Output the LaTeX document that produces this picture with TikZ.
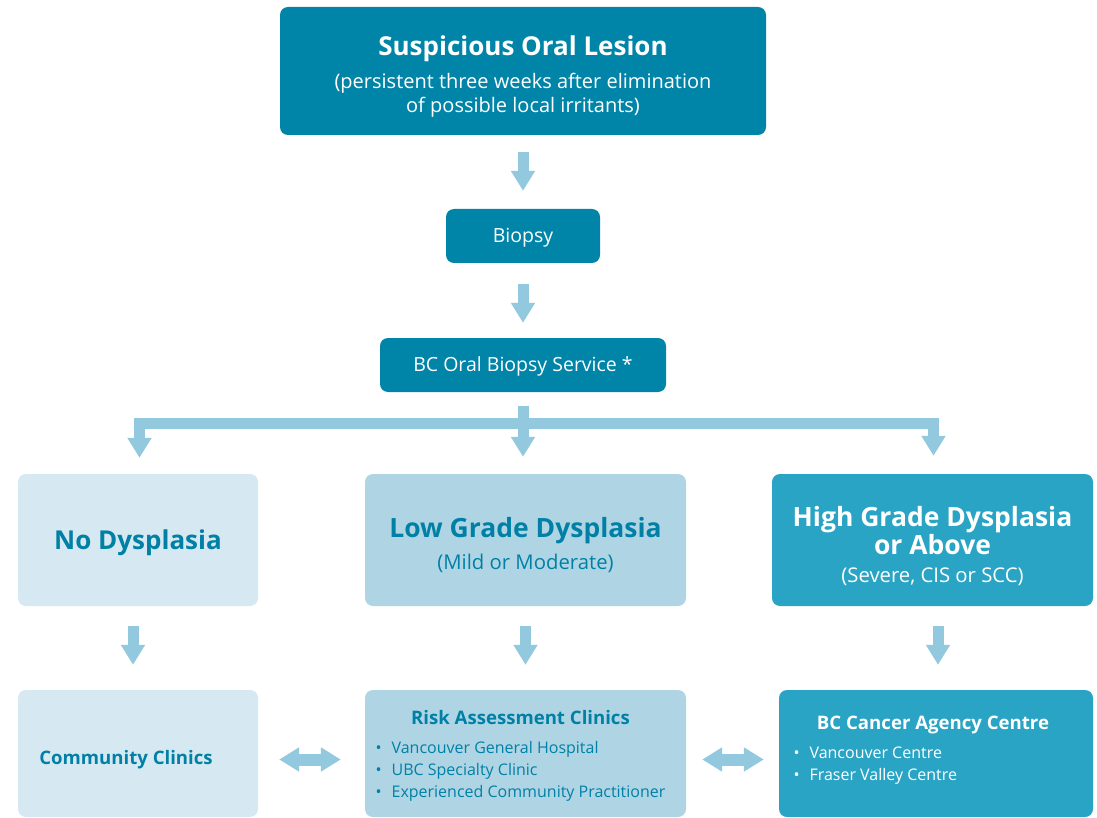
\documentclass[tikz,border=0pt]{standalone}
\usepackage{fontspec}
\setmainfont{Open Sans}
\usetikzlibrary{arrows.meta}
\definecolor{ocdark}{RGB}{0,133,168}
\definecolor{ochigh}{RGB}{42,164,196}
\definecolor{ocmid}{RGB}{175,213,229}
\definecolor{ocpale}{RGB}{214,233,242}
\definecolor{ocarrow}{RGB}{146,201,222}
\definecolor{octext}{RGB}{0,128,165}
\newcommand{\fs}[2]{\fontsize{#1}{#2}\selectfont}
\newcommand{\strutto}[1]{\rule{0pt}{#1}}
\newcommand{\bul}{\textbullet\hspace{10pt}}
\newcommand{\widthside}{240pt}
\newcommand{\widthmid}{321pt}
\newcommand{\heightrow}{132pt}
\tikzset{
    box/.style={rounded corners=8pt, inner sep=0pt, align=center},
    darkbox/.style={box, fill=ocdark, text=white},
    palebox/.style={box, fill=ocpale, text=octext},
    midbox/.style={box, fill=ocmid, text=octext},
    highbox/.style={box, fill=ochigh, text=white},
    fat/.style={draw=ocarrow, line width=11pt, line join=miter, -{Triangle[width=23pt,length=20pt]}},
    dbl/.style={draw=ocarrow, line width=12pt, {Triangle[width=23pt,length=20pt]}-{Triangle[width=23pt,length=20pt]}},
    title/.style={font=\bfseries\fs{18.6}{22}},
    items/.style={align=left, font=\fs{16}{22}}
}
\begin{document}
\begin{tikzpicture}[x=1pt, y=-1pt]
    \useasboundingbox[fill=white] (0,0) rectangle (1097,818);
    \clip (0,0) rectangle (1097,818);
    % top of the flow
    \node[darkbox, minimum width=486pt, minimum height=128pt, font=\fs{20}{24}] (lesion) at (523,71)
        {{\bfseries\fs{26}{24}\strutto{30pt}Suspicious Oral Lesion}\\[9pt]
         (persistent three weeks after elimination\\
         of possible local irritants)};
    \node[darkbox, minimum width=154pt, minimum height=54pt, font=\fs{19.5}{24}, text depth=2pt] (biopsy) at (523,236) {Biopsy};
    \node[darkbox, minimum width=286pt, minimum height=54pt, font=\fs{19.5}{24}, text depth=2pt] (service) at (523,365) {BC Oral Biopsy Service *};
    % diagnosis
    \node[palebox, minimum width=\widthside, minimum height=\heightrow, text depth=0pt, font=\bfseries\fs{26}{32}] (nodys) at (138,540) {No Dysplasia};
    \node[midbox, minimum width=\widthmid, minimum height=\heightrow, font=\fs{20.3}{32}] (lowgr) at (525.5,540)
        {{\bfseries\fs{26.5}{32}\strutto{30pt}Low Grade Dysplasia}\\(Mild or Moderate)};
    \node[highbox, minimum width=\widthmid, minimum height=\heightrow, font=\fs{20.3}{28.5}] (highgr) at (932.5,540)
        {{\bfseries\fs{26.5}{28.5}\strutto{32pt}High Grade Dysplasia}\\{\bfseries\fs{26.5}{28.5}or Above}\\[-1pt](Severe, CIS or SCC)};
    % where to go
    \node[palebox, minimum width=\widthside, minimum height=127pt] (community) at (138,753.5) {};
    \node[title, text=octext] (community-text) at (126,760) {Community Clinics};
    \node[midbox, minimum width=\widthmid, minimum height=127pt] (risk) at (525.5,753.5) {};
    \node[align=center, text=octext, font=\fs{16}{22}] (risk-text) at (520.5,753.5)
        {{\bfseries\fs{18.6}{22}\strutto{22pt}Risk Assessment Clinics}\\[12pt]
         \begin{tabular}{@{}l@{}}
         \bul Vancouver General Hospital\\
         \bul UBC Specialty Clinic\\
         \bul Experienced Community Practitioner
         \end{tabular}};
    \node[highbox, minimum width=314pt, minimum height=127pt] (cancer) at (936,753.5) {};
    \node[title, text=white] (cancer-title) at (933,725) {BC Cancer Agency Centre};
    \node[items, text=white, anchor=north west] (cancer-items) at (790,743)
        {\bul Vancouver Centre\\ \bul Fraser Valley Centre};

    \draw[fat, shorten <=17pt, shorten >=18pt] (lesion) -- (biopsy);
    \draw[fat, shorten <=21pt, shorten >=15pt] (biopsy) -- (service);
    \coordinate (split) at (523,423.5);
    \draw[fat, shorten <=14pt, shorten >=17pt] (service.south) -- (service.south |- lowgr.north);
    \draw[fat, shorten >=16pt] (split) -| ([xshift=1.5pt]nodys.north);
    \draw[fat, shorten >=18pt] (split) -| ([xshift=1pt]highgr.north);
    \draw[fat, shorten <=20pt, shorten >=25pt] ([xshift=-5pt]nodys.south) -- ([xshift=-5pt]community.north);
    \draw[fat, shorten <=20pt, shorten >=25pt] (lowgr) -- (risk);
    \draw[fat, shorten <=20pt, shorten >=25pt] ([xshift=5.5pt]highgr.south) -- ([xshift=2pt]cancer.north);
    \draw[dbl, shorten <=21pt, shorten >=24pt] ([yshift=-6pt]community.east) -- ([yshift=-6pt]risk.west);
    \draw[dbl, shorten <=16pt, shorten >=15pt] ([yshift=-6pt]risk.east) -- ([yshift=-6pt]cancer.west);
\end{tikzpicture}
\end{document}
